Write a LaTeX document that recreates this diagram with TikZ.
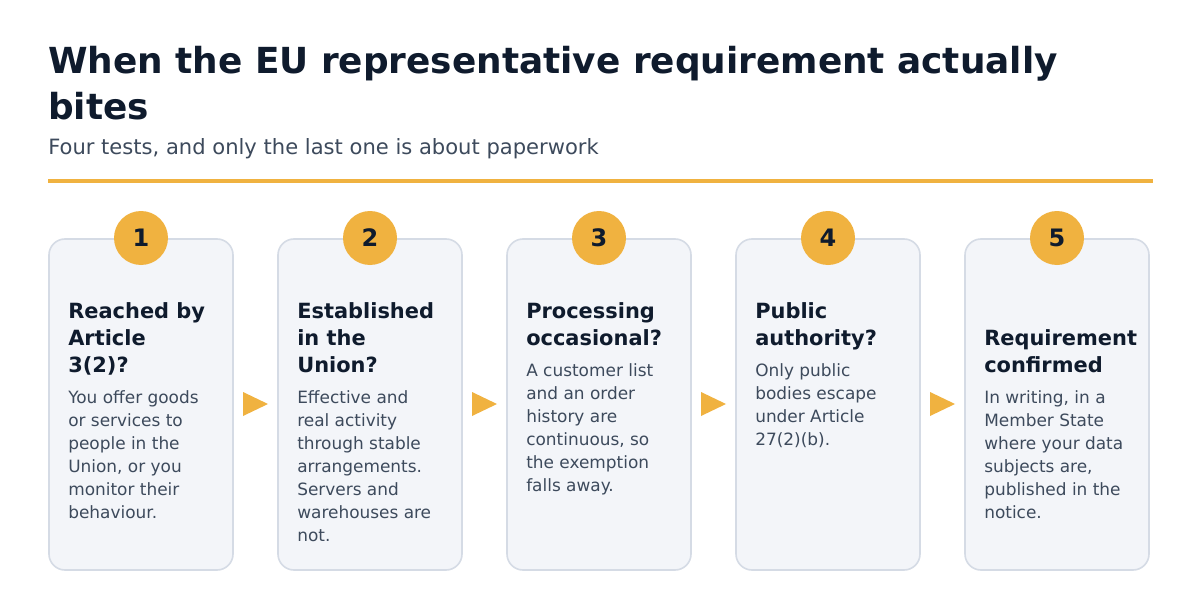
\documentclass[tikz,border=0pt]{standalone}
\usepackage{fontspec}
\setmainfont{DejaVu Sans}
\definecolor{ink}{HTML}{0F1B2D}
\definecolor{body}{HTML}{3D4A5C}
\definecolor{gold}{HTML}{F0B240}
\definecolor{cardfill}{HTML}{F3F5F9}
\definecolor{cardline}{HTML}{D5DBE5}
\begin{document}
\begin{tikzpicture}[x=0.75pt,y=-0.75pt,
  card/.style={draw=cardline,fill=cardfill,line width=1.2pt,rounded corners=12pt},
  badge/.style={circle,fill=gold,minimum size=40.5pt,inner sep=0,text=ink,font=\bfseries\fontsize{18}{20}\selectfont},
  ctitle/.style={anchor=north west,inner sep=0,align=left,text=ink,font=\bfseries\fontsize{15.7}{20.25}\selectfont},
  cbody/.style={anchor=north west,inner sep=0,align=left,text=body,font=\fontsize{12.7}{17.25}\selectfont},
  arr/.style={fill=gold,draw=none}]
\useasboundingbox (0,0) rectangle (1200,610);
\fill[white] (0,0) rectangle (1200,610);
\node[anchor=base west,inner sep=0,text=ink,font=\bfseries\fontsize{26.9}{30}\selectfont] (t1) at (48,74) {When the EU representative requirement actually};
\node[anchor=base west,inner sep=0,text=ink,font=\bfseries\fontsize{26.9}{30}\selectfont] (t2) at (48,119) {bites};
\node[anchor=base west,inner sep=0,text=body,font=\fontsize{15.8}{18}\selectfont] (sub) at (48,154) {Four tests, and only the last one is about paperwork};
\fill[gold] (48,179) rectangle (1153,183);
\foreach \i/\x in {1/49,2/278,3/507,4/736,5/965}{
  \draw[card] (\x,239) rectangle ++(184,331);
  \node[badge] (b\i) at (\x+92,238) {\i};
}
\foreach \i/\x in {1/243,2/472,3/701,4/930}{
  \fill[arr] (\x,392) -- (\x+25,404) -- (\x,416) -- cycle;
}
\def\st{\rule{0pt}{14.2pt}}
\def\sb{\rule{0pt}{12.1pt}}
\node[ctitle] (h1) at (68,299) {\st Reached by\\Article\\3(2)?};
\node[cbody] (d1) at (68,387) {\sb You offer goods\\or services to\\people in the\\Union, or you\\monitor their\\behaviour.};
\node[ctitle] (h2) at (297,299) {\st Established\\in the\\Union?};
\node[cbody] (d2) at (297,387) {\sb Effective and\\real activity\\through stable\\arrangements.\\Servers and\\warehouses are\\not.};
\node[ctitle] (h3) at (526,299) {\st Processing\\occasional?};
\node[cbody] (d3) at (526,360) {\sb A customer list\\and an order\\history are\\continuous, so\\the exemption\\falls away.};
\node[ctitle] (h4) at (755,299) {\st Public\\authority?};
\node[cbody] (d4) at (755,360) {\sb Only public\\bodies escape\\under Article\\27(2)(b).};
\node[ctitle] (h5) at (984,326) {\st Requirement\\confirmed};
\node[cbody] (d5) at (984,387) {\sb In writing, in a\\Member State\\where your data\\subjects are,\\published in the\\notice.};
\end{tikzpicture}
\end{document}
